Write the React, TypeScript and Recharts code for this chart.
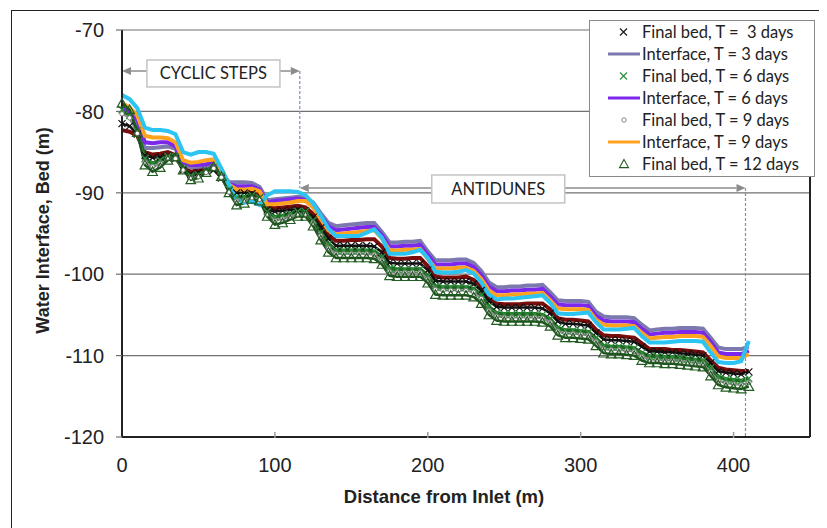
import React from 'react';
import { ComposedChart, Line, XAxis, YAxis, CartesianGrid, ReferenceLine, ReferenceDot, Label } from 'recharts';

// distance from inlet (m)
const distance = [
  0, 5, 10, 15, 20, 25, 30, 35, 40, 45,
  50, 55, 60, 65, 70, 75, 80, 85, 90, 95,
  100, 105, 110, 115, 120, 125, 130, 135, 140, 145,
  150, 155, 160, 165, 170, 175, 180, 185, 190, 195,
  200, 205, 210, 215, 220, 225, 230, 235, 240, 245,
  250, 255, 260, 265, 270, 275, 280, 285, 290, 295,
  300, 305, 310, 315, 320, 325, 330, 335, 340, 345,
  350, 355, 360, 365, 370, 375, 380, 385, 390, 395,
  400, 405, 410,
];

// water interface elevations (m)
const iface3 = [
  -80.0, -80.3, -81.5, -84.5, -84.5, -84.4, -84.3, -84.6, -86.4, -86.9,
  -86.8, -86.7, -86.6, -87.5, -88.7, -88.7, -88.7, -88.8, -89.3, -90.9,
  -90.8, -90.7, -90.6, -90.5, -90.6, -91.2, -92.5, -93.7, -94.1, -94.0,
  -93.9, -93.8, -93.7, -93.7, -94.8, -96.1, -96.1, -96.0, -96.0, -95.9,
  -97.2, -98.3, -98.3, -98.3, -98.2, -98.2, -98.6, -99.6, -101.0, -101.6,
  -101.6, -101.5, -101.5, -101.4, -101.4, -101.3, -102.2, -103.2, -103.3, -103.3,
  -103.3, -103.4, -104.6, -105.2, -105.3, -105.3, -105.3, -105.4, -106.2, -106.9,
  -106.8, -106.7, -106.7, -106.6, -106.6, -106.6, -106.7, -107.8, -109.0, -109.2,
  -109.2, -109.2, -108.9,
];
const iface6 = [
  -79.5, -80.0, -81.0, -83.8, -83.9, -83.8, -83.8, -84.3, -86.2, -86.6,
  -86.6, -86.5, -86.3, -87.4, -88.9, -89.2, -89.2, -89.2, -89.6, -91.2,
  -91.0, -90.9, -90.8, -90.7, -90.9, -91.6, -92.8, -94.1, -94.6, -94.5,
  -94.4, -94.3, -94.2, -94.2, -95.2, -96.6, -96.6, -96.5, -96.5, -96.4,
  -97.6, -98.8, -98.8, -98.8, -98.7, -98.7, -99.1, -100.1, -101.5, -102.1,
  -102.1, -102.0, -102.0, -101.9, -101.9, -101.8, -102.7, -103.7, -103.8, -103.8,
  -103.8, -103.9, -105.1, -105.7, -105.8, -105.8, -105.8, -105.9, -106.7, -107.4,
  -107.3, -107.2, -107.2, -107.1, -107.1, -107.1, -107.2, -108.3, -109.6, -109.8,
  -109.8, -109.8, -109.4,
];
const iface9 = [
  -79.0, -79.5, -80.5, -83.0, -83.2, -83.2, -83.3, -83.8, -86.0, -86.3,
  -86.2, -86.0, -85.9, -87.2, -89.0, -89.6, -89.6, -89.5, -89.8, -91.4,
  -91.4, -91.3, -91.2, -91.0, -91.0, -91.8, -93.2, -94.6, -95.1, -95.0,
  -94.9, -94.8, -94.7, -94.6, -95.6, -97.1, -97.1, -97.0, -97.0, -96.9,
  -98.1, -99.3, -99.3, -99.3, -99.2, -99.2, -99.6, -100.6, -102.0, -102.6,
  -102.6, -102.5, -102.5, -102.4, -102.4, -102.3, -103.2, -104.2, -104.3, -104.3,
  -104.3, -104.4, -105.6, -106.2, -106.3, -106.3, -106.3, -106.4, -107.2, -107.9,
  -107.8, -107.7, -107.7, -107.6, -107.6, -107.6, -107.7, -108.8, -110.1, -110.3,
  -110.3, -110.3, -109.8,
];
const iface12 = [
  -78.0, -78.5, -79.6, -82.0, -82.3, -82.3, -82.4, -82.8, -85.0, -85.3,
  -85.0, -85.0, -85.2, -87.0, -89.0, -90.8, -91.2, -91.1, -91.5, -90.3,
  -89.8, -89.8, -89.8, -89.9, -90.3, -91.3, -92.8, -94.4, -95.3, -95.3,
  -95.3, -95.3, -94.9, -94.5, -95.5, -97.5, -97.5, -97.5, -97.3, -97.0,
  -98.0, -99.7, -99.8, -99.8, -99.7, -99.5, -99.9, -101.0, -102.5, -103.1,
  -103.0, -103.0, -102.9, -102.8, -102.7, -102.6, -103.5, -104.8, -104.9, -104.9,
  -104.8, -104.7, -105.9, -106.8, -106.8, -106.8, -106.7, -106.6, -107.6, -108.4,
  -108.4, -108.4, -108.3, -108.2, -108.2, -108.2, -108.3, -109.6, -110.8, -110.9,
  -110.9, -110.7, -108.2,
];
const redBand = [
  -82.3, -82.5, -83.0, -85.0, -85.3, -85.2, -85.0, -85.4, -87.0, -87.4,
  -87.2, -87.0, -87.0, -88.0, -89.4, -89.6, -89.6, -89.7, -90.3, -91.8,
  -91.9, -91.8, -91.7, -91.6, -91.8, -92.6, -93.9, -95.2, -95.9, -95.9,
  -95.8, -95.8, -95.7, -95.7, -96.6, -98.0, -98.1, -98.1, -98.0, -98.0,
  -99.0, -100.3, -100.4, -100.4, -100.4, -100.3, -100.7, -101.6, -102.9, -103.6,
  -103.7, -103.7, -103.7, -103.6, -103.6, -103.6, -104.3, -105.4, -105.6, -105.6,
  -105.7, -105.8, -106.8, -107.5, -107.6, -107.6, -107.7, -107.8, -108.5, -109.2,
  -109.2, -109.2, -109.3, -109.3, -109.4, -109.5, -109.6, -110.6, -111.5, -111.7,
  -111.8, -111.9, -111.9,
];

// final bed elevations (m)
const bed3 = [
  -81.5, -81.8, -82.8, -85.4, -85.7, -85.6, -85.4, -85.8, -87.2, -87.7,
  -87.5, -87.3, -87.2, -88.2, -89.7, -90.0, -90.0, -90.1, -90.6, -92.1,
  -92.3, -92.2, -92.1, -92.0, -92.2, -93.0, -94.3, -95.6, -96.5, -96.5,
  -96.5, -96.5, -96.5, -96.6, -97.3, -98.6, -98.7, -98.7, -98.7, -98.7,
  -99.5, -100.8, -100.9, -100.9, -100.9, -100.9, -101.2, -102.0, -103.3, -104.0,
  -104.1, -104.1, -104.1, -104.1, -104.1, -104.2, -104.8, -105.8, -106.1, -106.1,
  -106.2, -106.3, -107.2, -108.0, -108.1, -108.1, -108.2, -108.3, -108.9, -109.5,
  -109.5, -109.6, -109.6, -109.7, -109.8, -109.9, -110.0, -110.9, -111.9, -112.1,
  -112.2, -112.3, -112.0,
];
const bed6 = [
  -79.8, -80.5, -82.4, -85.8, -86.4, -86.0, -85.5, -85.6, -87.0, -87.9,
  -87.8, -87.3, -86.9, -87.9, -89.6, -90.6, -90.5, -90.3, -90.6, -92.3,
  -93.0, -92.8, -92.6, -92.3, -92.3, -93.4, -94.9, -96.3, -97.1, -97.1,
  -97.1, -97.1, -97.1, -97.2, -97.9, -99.3, -99.4, -99.4, -99.4, -99.4,
  -100.2, -101.5, -101.6, -101.6, -101.6, -101.6, -101.8, -102.6, -104.0, -104.8,
  -104.9, -104.9, -104.9, -104.9, -104.9, -105.0, -105.5, -106.6, -106.9, -106.9,
  -107.0, -107.1, -107.9, -108.8, -108.9, -108.9, -109.0, -109.1, -109.7, -110.1,
  -110.1, -110.2, -110.2, -110.3, -110.4, -110.5, -110.6, -111.5, -112.6, -112.9,
  -113.0, -113.1, -112.8,
];
const bed9 = [
  -80.3, -80.8, -82.7, -86.2, -86.8, -86.4, -85.7, -85.8, -87.2, -88.1,
  -88.0, -87.5, -87.0, -88.1, -89.9, -91.0, -90.9, -90.6, -90.8, -92.6,
  -93.4, -93.2, -92.9, -92.6, -92.6, -93.7, -95.3, -96.8, -97.5, -97.5,
  -97.5, -97.5, -97.5, -97.6, -98.3, -99.7, -99.8, -99.8, -99.8, -99.8,
  -100.6, -101.9, -102.0, -102.0, -102.0, -102.0, -102.2, -103.0, -104.5, -105.2,
  -105.3, -105.3, -105.3, -105.3, -105.3, -105.4, -105.9, -107.0, -107.3, -107.3,
  -107.4, -107.5, -108.3, -109.2, -109.3, -109.3, -109.4, -109.5, -110.1, -110.5,
  -110.5, -110.6, -110.6, -110.7, -110.8, -110.9, -111.0, -112.0, -113.1, -113.4,
  -113.5, -113.6, -113.3,
];
const bed12 = [
  -79.0, -79.8, -82.6, -86.6, -87.4, -86.9, -86.0, -85.6, -87.2, -88.4,
  -88.2, -87.5, -86.8, -88.0, -90.0, -91.5, -91.3, -90.8, -91.0, -92.9,
  -93.9, -93.7, -93.3, -92.9, -92.9, -94.1, -95.8, -97.3, -98.0, -98.0,
  -98.0, -98.0, -98.0, -98.1, -98.8, -100.2, -100.3, -100.3, -100.3, -100.3,
  -101.1, -102.5, -102.6, -102.6, -102.6, -102.6, -102.8, -103.6, -105.0, -105.7,
  -105.8, -105.8, -105.8, -105.8, -105.8, -105.9, -106.4, -107.5, -107.8, -107.8,
  -107.9, -108.0, -108.8, -109.7, -109.8, -109.8, -109.9, -110.0, -110.6, -110.9,
  -110.9, -111.0, -111.0, -111.1, -111.2, -111.3, -111.4, -112.5, -113.6, -113.9,
  -114.0, -114.1, -113.8,
];

const xTicks = [0, 100, 200, 300, 400];
const yTicks = [-120, -110, -100, -90, -80, -70];

const legendItems = [
  { label: 'Final bed, T =  3 days', kind: 'cross', color: '#1a1a1a' },
  { label: 'Interface, T = 3 days', kind: 'line', color: '#7b79ad' },
  { label: 'Final bed, T = 6 days', kind: 'cross', color: '#2f8f3f' },
  { label: 'Interface, T = 6 days', kind: 'line', color: '#7b28ec' },
  { label: 'Final bed, T = 9 days', kind: 'circle', color: '#8a8a8a' },
  { label: 'Interface, T = 9 days', kind: 'line', color: '#ffa31f' },
  { label: 'Final bed, T = 12 days', kind: 'triangle', color: '#225c22' },
];

const rows = distance.map((x, i) => ({
  x,
  iface3: iface3[i],
  iface6: iface6[i],
  iface9: iface9[i],
  iface12: iface12[i],
  red: redBand[i],
  bed3: bed3[i],
  bed6: bed6[i],
  bed9: bed9[i],
  bed12: bed12[i],
}));

const tickFont = { fontFamily: '"Liberation Sans", Arial, sans-serif', fontSize: 20, fill: '#222' };
const calibriLike = 'Lato, "Open Sans", sans-serif';

const crossDot = (color: string, s: number) => (p: any) => {
  const { cx, cy, index } = p;
  if (cx == null || cy == null) return <g key={index} />;
  return (
    <path key={index} d={`M${cx - s},${cy - s}L${cx + s},${cy + s}M${cx + s},${cy - s}L${cx - s},${cy + s}`}
      stroke={color} strokeWidth={1.2} fill="none" />
  );
};

const circleDot = (color: string) => (p: any) => {
  const { cx, cy, index } = p;
  if (cx == null || cy == null) return <g key={index} />;
  return <circle key={index} cx={cx} cy={cy} r={2.2} stroke={color} strokeWidth={1} fill="#fff" />;
};

const triangleDot = (color: string) => (p: any) => {
  const { cx, cy, index } = p;
  if (cx == null || cy == null) return <g key={index} />;
  const s = 4.8;
  return (
    <polygon key={index} points={`${cx},${cy - s} ${cx + s},${cy + s * 0.8} ${cx - s},${cy + s * 0.8}`}
      stroke={color} strokeWidth={1.2} fill="none" />
  );
};

const arrowShape = (p: any) => {
  const { x1, y1, x2, y2 } = p;
  const head = 9;
  const half = 4;
  return (
    <g>
      <line x1={x1 + head} y1={y1} x2={x2 - head} y2={y2} stroke="#8c8c8c" strokeWidth={1.5} />
      <polygon points={`${x1},${y1} ${x1 + head},${y1 - half} ${x1 + head},${y1 + half}`} fill="#8c8c8c" />
      <polygon points={`${x2},${y2} ${x2 - head},${y2 - half} ${x2 - head},${y2 + half}`} fill="#8c8c8c" />
    </g>
  );
};

const textBox = (text: string, w: number, h: number) => (p: any) => (
  <g>
    <rect x={p.cx - w / 2} y={p.cy - h / 2} width={w} height={h} fill="#fff" stroke="#c4c4c4" strokeWidth={1.5} />
    <text x={p.cx} y={p.cy} dy="0.36em" textAnchor="middle" fontFamily={calibriLike} fontSize={16.5} fill="#222">
      {text}
    </text>
  </g>
);

const XTick = (p: any) => {
  const { x, y, payload } = p;
  return (
    <g>
      {payload.value > 0 && <line x1={x} x2={x} y1={y - 20} y2={y - 26} stroke="#9a9a9a" strokeWidth={1.5} />}
      <text x={x} y={y} dy="0.71em" textAnchor="middle" {...tickFont}>{payload.value}</text>
    </g>
  );
};

const LegendSymbol = ({ kind, color }: { kind: string; color: string }) => (
  <svg width={52} height={22} style={{ display: 'block' }}>
    {kind === 'line' && <line x1={18} x2={50} y1={11} y2={11} stroke={color} strokeWidth={3} />}
    {kind === 'cross' && <path d="M30,7.5L37,14.5M37,7.5L30,14.5" stroke={color} strokeWidth={1.2} fill="none" />}
    {kind === 'circle' && <circle cx={34} cy={11} r={2.2} stroke={color} strokeWidth={1} fill="#fff" />}
    {kind === 'triangle' && <polygon points="34,6.5 38.5,14.6 29.5,14.6" stroke={color} strokeWidth={1.1} fill="none" />}
  </svg>
);

export default function App() {
  return (
    <div style={{ position: 'relative', width: 827, height: 528, margin: '-8px 0 0 -8px', overflow: 'hidden', background: '#fff' }}>
      <div style={{ position: 'absolute', left: 11, top: 10, width: 830, height: 530, border: '1.5px solid #222' }} />
      <ComposedChart width={827} height={528} data={rows} margin={{ top: 30, right: 17, left: 0, bottom: 51 }}>
        <CartesianGrid horizontal vertical={false} stroke="#707070" strokeWidth={1.2} />
        <XAxis type="number" dataKey="x" domain={[0, 450]} ticks={xTicks} height={40} tickSize={6} tickMargin={15}
          tickLine={false} tick={<XTick />} axisLine={{ stroke: '#222', strokeWidth: 2 }}>
          <Label content={(p: any) => {
            const vb = p.viewBox;
            return (
              <text x={vb.x + vb.width / 2 - 22} y={vb.y + vb.height + 26} textAnchor="middle"
                fontFamily='"Liberation Sans", Arial, sans-serif' fontWeight="bold" fontSize={18.5} fill="#222">
                Distance from Inlet (m)
              </text>
            );
          }} />
        </XAxis>
        <YAxis type="number" domain={[-120, -70]} ticks={yTicks} width={122} tickSize={6} tickMargin={12}
          tick={tickFont} tickLine={{ stroke: '#707070', strokeWidth: 1.2 }} axisLine={{ stroke: '#222', strokeWidth: 2 }}
          interval={0}>
          <Label content={(p: any) => {
            const vb = p.viewBox;
            const cy = vb.y + vb.height / 2 - 3;
            return (
              <text x={43} y={cy} textAnchor="middle" dominantBaseline="central" transform={`rotate(-90, 43, ${cy})`}
                fontFamily='"Liberation Sans", Arial, sans-serif' fontWeight="bold" fontSize={18} fill="#222">
                Water Interface, Bed (m)
              </text>
            );
          }} />
        </YAxis>
        <ReferenceLine x={450} stroke="#222" strokeWidth={2} />

        <Line dataKey="red" stroke="#7a0c0c" strokeWidth={4} dot={false} activeDot={false} isAnimationActive={false} />
        <Line dataKey="bed3" stroke="#111" strokeWidth={2.5} dot={crossDot('#111', 3.5)} activeDot={false} isAnimationActive={false} />
        <Line dataKey="iface3" stroke="#7b79ad" strokeWidth={4} dot={false} activeDot={false} isAnimationActive={false} />
        <Line dataKey="bed6" stroke="#1f6b22" strokeWidth={4} dot={crossDot('#2f8f3f', 3.5)} activeDot={false} isAnimationActive={false} />
        <Line dataKey="iface6" stroke="#7b28ec" strokeWidth={4} dot={false} activeDot={false} isAnimationActive={false} />
        <Line dataKey="bed9" stroke="#8f8f8f" strokeWidth={2.2} dot={circleDot('#7a7a7a')} activeDot={false} isAnimationActive={false} />
        <Line dataKey="iface9" stroke="#ffa31f" strokeWidth={4} dot={false} activeDot={false} isAnimationActive={false} />
        <Line dataKey="bed12" stroke="#1d531d" strokeWidth={2.5} dot={triangleDot('#225c22')} activeDot={false} isAnimationActive={false} />
        <Line dataKey="iface12" stroke="#2cc4f2" strokeWidth={4} dot={false} activeDot={false} isAnimationActive={false} />

        <ReferenceLine segment={[{ x: 116.3, y: -75.05 }, { x: 116.3, y: -89.4 }]} stroke="#7d8fb3" strokeWidth={1.2}
          strokeDasharray="3 2" ifOverflow="visible" />
        <ReferenceLine segment={[{ x: 407.8, y: -89.4 }, { x: 407.8, y: -120 }]} stroke="#7d8fb3" strokeWidth={1.2}
          strokeDasharray="3 2" ifOverflow="visible" />
        <ReferenceLine segment={[{ x: 0, y: -75.05 }, { x: 116.3, y: -75.05 }]} shape={arrowShape} ifOverflow="visible" />
        <ReferenceLine segment={[{ x: 116.3, y: -89.4 }, { x: 407.8, y: -89.4 }]} shape={arrowShape} ifOverflow="visible" />
        <ReferenceDot x={59.8} y={-75.34} shape={textBox('CYCLIC STEPS', 133, 27)} ifOverflow="visible" />
        <ReferenceDot x={246.1} y={-89.53} shape={textBox('ANTIDUNES', 133, 28)} ifOverflow="visible" />
      </ComposedChart>

      <div style={{ position: 'absolute', left: 589, top: 20, width: 226, height: 157, boxSizing: 'border-box',
        border: '1px solid #8a8a8a', background: '#fff' }}>
        {legendItems.map((item) => (
          <div key={item.label} style={{ display: 'flex', alignItems: 'center', height: 22 }}>
            <LegendSymbol kind={item.kind} color={item.color} />
            <span style={{ fontFamily: calibriLike, fontSize: 16.5, color: '#222', whiteSpace: 'pre', lineHeight: '22px' }}>
              {item.label}
            </span>
          </div>
        ))}
      </div>
    </div>
  );
}
